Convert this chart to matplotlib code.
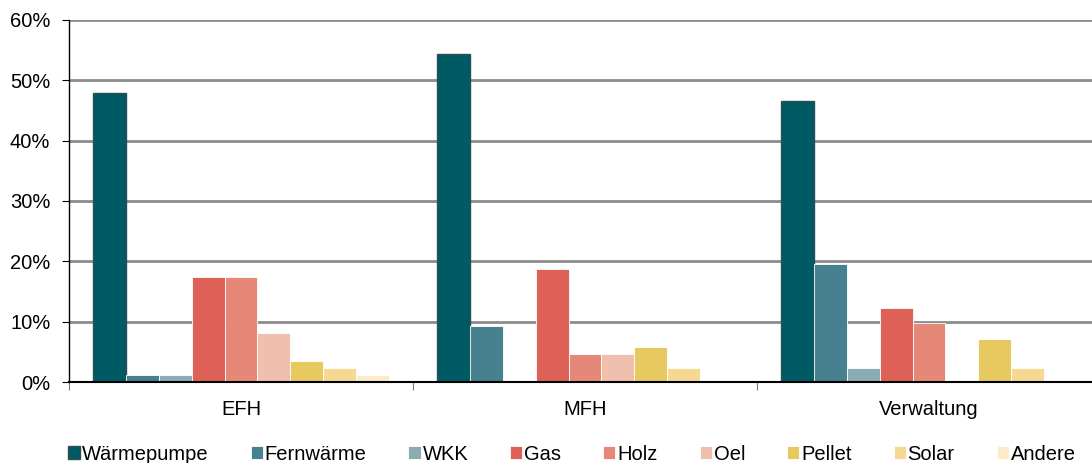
import matplotlib
matplotlib.use('Agg')
import matplotlib.pyplot as plt
import numpy as np
from matplotlib.ticker import FuncFormatter, FixedLocator

plt.rcParams['font.family'] = ['Liberation Sans', 'DejaVu Sans']
plt.rcParams['font.size'] = 14.5

categories = ['EFH', 'MFH', 'Verwaltung']
sources = ['Wärmepumpe', 'Fernwärme', 'WKK', 'Gas', 'Holz', 'Oel', 'Pellet', 'Solar', 'Andere']
colors = ['#005a64', '#47808e', '#8aacb2', '#dd6157', '#e58878',
          '#f1bfad', '#e8c95f', '#f4d893', '#fbebc8']

# Anteile in % je Gebäudekategorie (EFH, MFH, Verwaltung)
waermepumpe = [47.9, 54.3, 46.5]
fernwaerme = [1.1, 9.3, 19.5]
wkk = [1.1, 0.0, 2.4]
gas = [17.4, 18.8, 12.2]
holz = [17.4, 4.7, 9.7]
oel = [8.1, 4.7, 0.0]
pellet = [3.4, 5.8, 7.2]
solar = [2.3, 2.3, 2.4]
andere = [1.2, 0.0, 0.0]
values = [waermepumpe, fernwaerme, wkk, gas, holz, oel, pellet, solar, andere]

fig = plt.figure(figsize=(10.92, 4.63), dpi=100)
ax = fig.add_axes([69 / 1092, 81 / 463, 1032 / 1092, 362 / 463])

x = np.arange(len(categories))
w = 0.0956
for i, (name, vals, c) in enumerate(zip(sources, values, colors)):
    pos = x + (i - 4) * w
    if i == 0:
        ax.bar(pos, vals, w, color=c, edgecolor='#2f4d55', linewidth=1.0,
               label=name, zorder=3)
    else:
        ax.bar(pos, vals, w, color=c, edgecolor='white', linewidth=0.6,
               label=name, zorder=3)

ax.set_xlim(-0.5, 2.5)
ax.set_ylim(0, 60)
ax.yaxis.set_major_locator(FixedLocator(range(0, 61, 10)))
ax.yaxis.set_major_formatter(FuncFormatter(lambda v, p: '%d%%' % v))
ax.grid(axis='y', color='#8c8c8c', linewidth=2, zorder=0)
ax.set_axisbelow(True)

# Kategoriegrenzen als Ticks, Beschriftung mittig
ax.xaxis.set_major_locator(FixedLocator([-0.5, 0.5, 1.5, 2.5]))
ax.xaxis.set_major_formatter(FuncFormatter(lambda v, p: ''))
ax.xaxis.set_minor_locator(FixedLocator(x))
ax.set_xticklabels(categories, minor=True)
ax.tick_params(axis='x', which='major', length=6, color='#808080', direction='out')
ax.tick_params(axis='x', which='minor', length=0, pad=13)
ax.tick_params(axis='y', length=5, direction='out', pad=8.5, color='black')

for s in ['top', 'right']:
    ax.spines[s].set_visible(False)
ax.spines['left'].set_linewidth(1.0)
ax.spines['bottom'].set_linewidth(1.5)
ax.spines['bottom'].set_zorder(4)

fig.legend(loc='center left', bbox_to_anchor=(68 / 1092, 1 - 454 / 463), ncol=9,
           frameon=False, handlelength=0.6, handleheight=0.6, handletextpad=0.1,
           columnspacing=2.08, borderaxespad=0, borderpad=0)

fig.savefig('out.png', dpi=100)
